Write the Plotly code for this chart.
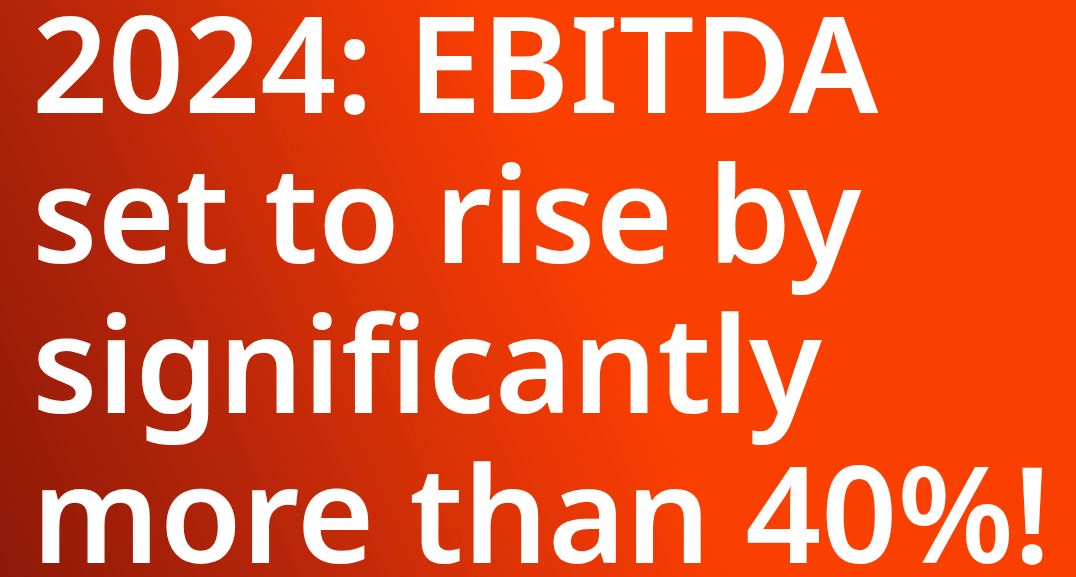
import numpy as np
import plotly.graph_objects as go

W, H = 1076, 577

# Text content (headline lines)
lines = ["2024: EBITDA", "set to rise by", "significantly", "more than 40%!"]
line_centers_px = [61, 211, 361, 511]  # vertical centre of each line, px from top
text_left_px = 30

# Background gradient colours
grad_stops = [0.0, 0.38, 0.5, 0.7, 0.9, 1.0]
grad_colors = ["#8C1908", "#B52509", "#C42A08", "#DC3306", "#F03A03", "#FA4000"]

# gradient field (background styling)
gx = np.linspace(0, W, 120)
gy = np.linspace(0, H, 70)
GX, GY = np.meshgrid(gx, gy)
Z = np.clip(0.00137 * GX + 0.00059 * GY, 0, 1)  # y measured from bottom

fig = go.Figure()
fig.add_trace(go.Heatmap(
    x=gx, y=gy, z=Z, zmin=0, zmax=1, zsmooth="best",
    colorscale=[[s, c] for s, c in zip(grad_stops, grad_colors)],
    showscale=False, hoverinfo="skip",
))

for txt, yc in zip(lines, line_centers_px):
    fig.add_annotation(
        x=text_left_px / W, y=1 - yc / H, xref="paper", yref="paper",
        xanchor="left", yanchor="middle", text=txt, showarrow=False,
        font=dict(family="Noto Sans", size=133, color="white", weight=600),
    )

fig.update_layout(
    width=W, height=H, margin=dict(l=0, r=0, t=0, b=0),
    xaxis=dict(visible=False, range=[0, W], fixedrange=True),
    yaxis=dict(visible=False, range=[0, H], fixedrange=True),
    paper_bgcolor="#C42A08", plot_bgcolor="#C42A08",
    showlegend=False,
)
fig.write_html("out.html", config={"displayModeBar": False},
               post_script="document.body.style.margin='0';")
